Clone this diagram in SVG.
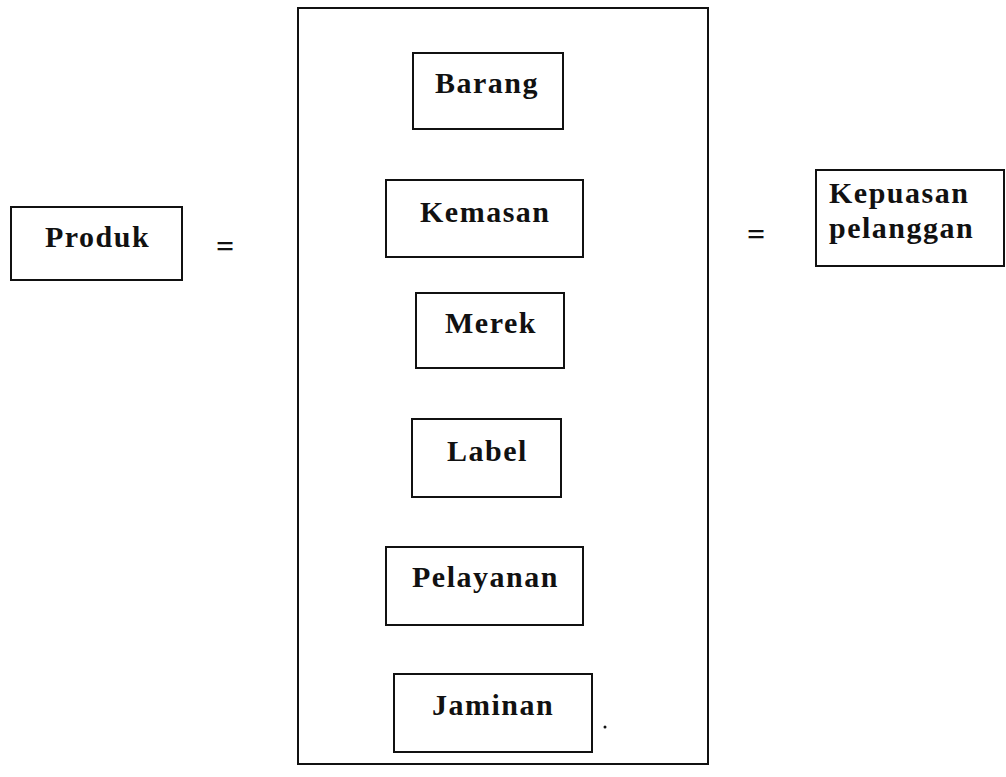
<svg xmlns="http://www.w3.org/2000/svg" width="1006" height="777" viewBox="0 0 1006 777">
<style>
rect.b{fill:none;stroke:#111;stroke-width:2}
text{font-family:"Liberation Serif","Times New Roman",serif;font-weight:bold;font-size:30px;fill:#111;letter-spacing:1.5px}
text.eq{letter-spacing:0;text-anchor:middle;font-size:32px}
</style>
<rect width="1006" height="777" fill="#fff"/>
<g id="frame"><rect class="b" x="298" y="8" width="410" height="756"/></g>
<g id="produk"><rect class="b" x="11" y="207" width="171" height="73"/><text x="45" y="247">Produk</text></g>
<g id="barang"><rect class="b" x="413" y="53" width="150" height="76"/><text x="435" y="93">Barang</text></g>
<g id="kemasan"><rect class="b" x="386" y="180" width="197" height="77"/><text x="420" y="222">Kemasan</text></g>
<g id="merek"><rect class="b" x="416" y="293" width="148" height="75"/><text x="445" y="333">Merek</text></g>
<g id="label"><rect class="b" x="412" y="419" width="149" height="78"/><text x="447" y="461">Label</text></g>
<g id="pelayanan"><rect class="b" x="386" y="547" width="197" height="78"/><text x="412" y="587">Pelayanan</text></g>
<g id="jaminan"><rect class="b" x="394" y="674" width="198" height="78"/><text x="432" y="715">Jaminan</text></g>
<g id="kepuasan"><rect class="b" x="816" y="170" width="188" height="96"/><text x="829" y="203">Kepuasan</text><text x="829" y="238">pelanggan</text></g>
<g id="connectors">
<text class="eq" x="225" y="257">=</text>
<text class="eq" x="756" y="245">=</text>
<circle cx="605" cy="727" r="1.5" fill="#111"/>
</g>
</svg>
